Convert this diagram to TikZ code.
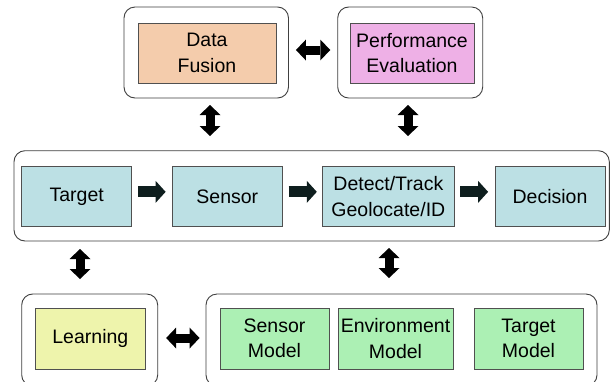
\documentclass[tikz,border=0pt]{standalone}
\usepackage{fontspec}
\setmainfont{Liberation Sans}
\usetikzlibrary{arrows.meta,calc}
\definecolor{cdf}{HTML}{F4CCAC}
\definecolor{cpe}{HTML}{EEB0E6}
\definecolor{cmid}{HTML}{BCE0E4}
\definecolor{clearn}{HTML}{EEF4AC}
\definecolor{cmodel}{HTML}{ACF0B4}
\definecolor{arrowdark}{HTML}{0E1E1E}
\definecolor{edgegray}{HTML}{505050}
\tikzset{
  inbox/.style={draw=edgegray, line width=0.8pt, inner sep=0pt, align=center,
    font={\fontsize{19.5}{25.5}\selectfont}},
  outbox/.style={draw=black!75, line width=0.9pt, rounded corners=11pt, inner sep=0pt},
  dblk/.style={line width=9pt, draw=black,
    {Triangle[width=21pt,length=10pt,line width=0pt]}-{Triangle[width=21pt,length=10pt,line width=0pt]}},
  flow/.style={line width=11pt, draw=arrowdark,
    -{Triangle[width=22pt,length=10pt,line width=0pt]}}
}
\begin{document}
\begin{tikzpicture}[x=1pt,y=-1pt]
\clip (0,0) rectangle (610,381);
\fill[white] (0,0) rectangle (610,381);
% outer rounded boxes
\node[outbox, minimum width=164.5pt, minimum height=91pt] (dfo) at (206.25,52.5) {};
\node[outbox, minimum width=145pt, minimum height=91pt] (peo) at (410.2,52.5) {};
\node[outbox, minimum width=595.3pt, minimum height=90.3pt] (mid) at (311.65,195.85) {};
\node[outbox, minimum width=136pt, minimum height=92pt] (lo) at (89.7,340) {};
\node[outbox, minimum width=391pt, minimum height=92pt] (mo) at (401.5,340) {};
% inner boxes
\node[inbox, fill=cdf, minimum width=138pt, minimum height=60pt] (df) at (207,53) {Data\\Fusion};
\node[inbox, fill=cpe, minimum width=124pt, minimum height=60pt] (pe) at (412,53) {Performance\\Evaluation};
\node[inbox, fill=cmid, minimum width=110pt, minimum height=59.3pt] (tg) at (76.7,196.35) {Target};
\node[inbox, fill=cmid, minimum width=110.7pt, minimum height=59.3pt] (sn) at (227.35,196.35) {Sensor};
\node[inbox, fill=cmid, minimum width=131.3pt, minimum height=59.3pt] (dt) at (388.35,196.35) {Detect/Track\\Geolocate/ID};
\node[inbox, fill=cmid, minimum width=110pt, minimum height=59.3pt] (dc) at (550,196.35) {Decision};
\node[inbox, fill=clearn, minimum width=110.7pt, minimum height=61pt] (ln) at (90.35,338.5) {Learning};
\node[inbox, fill=cmodel, minimum width=109pt, minimum height=61pt] (sm) at (274.5,338.5) {Sensor\\Model};
\node[inbox, fill=cmodel, minimum width=115pt, minimum height=61pt] (em) at (395.5,338.5) {Environment\\Model};
\node[inbox, fill=cmodel, minimum width=109pt, minimum height=61pt] (tm) at (528.5,338.5) {Target\\Model};
% arrow end points
\coordinate (a1t) at (210,105);  \coordinate (a1b) at (210,136);
\coordinate (a2t) at (408,105);  \coordinate (a2b) at (408,136);
\coordinate (a3t) at (80,249);   \coordinate (a3b) at (80,279);
\coordinate (a4t) at (389,248);  \coordinate (a4b) at (389,278);
% connectors
\draw[dblk, shorten <=7pt, shorten >=7pt] ([yshift=2.5pt]dfo.east) -- ([yshift=2.5pt]peo.west);
\draw[dblk] (a1t) -- (a1b);
\draw[dblk] (a2t) -- (a2b);
\draw[dblk] (a3t) -- (a3b);
\draw[dblk] (a4t) -- (a4b);
\draw[dblk, shorten <=8pt, shorten >=6pt] ([yshift=2pt]lo.east) -- ([yshift=2pt]mo.west);
\draw[flow, shorten <=6pt, shorten >=6pt] ([yshift=4.5pt]tg.east) -- ([yshift=4.5pt]sn.west);
\draw[flow, shorten <=5.5pt, shorten >=5.5pt] ([yshift=4.5pt]sn.east) -- ([yshift=4.5pt]dt.west);
\draw[flow, shorten <=6pt, shorten >=6.5pt] ([yshift=4.5pt]dt.east) -- ([yshift=4.5pt]dc.west);
\end{tikzpicture}
\end{document}
